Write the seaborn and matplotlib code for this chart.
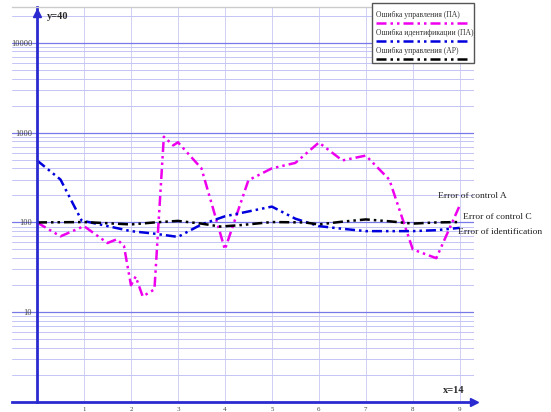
"""Log-scale error curves (Maple style plot)."""

import matplotlib.pyplot as plt
import numpy as np
import pandas as pd
import seaborn as sns
from matplotlib.lines import Line2D
from matplotlib.patches import Rectangle
from matplotlib.ticker import LogLocator, NullFormatter

# control error, PA (magenta)
ctrl_a_x = [0, 0.5, 1, 1.5, 1.7, 1.85, 2.0, 2.1, 2.25, 2.5, 2.7, 2.9, 3.0,
            3.5, 4.0, 4.5, 5.0, 5.5, 6.0, 6.5, 7.0, 7.5, 8.0, 8.5, 9.0]
ctrl_a_y = [100, 70, 91, 59, 65, 55, 20, 25, 15, 18, 900, 720, 780,
            400, 50, 295, 400, 460, 775, 490, 555, 300, 50, 40, 155]

# identification error, PA (blue)
ident_x = [0, 0.5, 0.95, 2, 2.5, 3, 3.5, 4, 5, 5.5, 6, 6.5, 7, 8, 8.5, 9]
ident_y = [490, 300, 105, 80, 75, 69, 95, 117, 150, 110, 91, 85, 80, 80, 82, 87]

# control error, AR (black)
ctrl_c_x = [0, 1, 2, 2.5, 3, 3.5, 3.9, 4.3, 5, 5.7, 6, 6.5, 7, 7.5, 8, 8.5, 9]
ctrl_c_y = [100, 101, 95, 100, 104, 97, 90, 93, 101, 100, 95, 102, 108, 103, 97, 100, 101]

series = ["Ошибка управления (ПА)", "Ошибка идентификации (ПА)", "Ошибка управления (АР)"]
colors = ["#ee00ee", "#0000dd", "#000000"]
dash_patterns = [(4, 1.6, 1, 1.6, 1, 1.6), (4, 1.6, 1, 1.6, 1, 1.6), (4, 1.6, 1, 1.6, 1, 1.6)]

y_ticks = [10, 100, 1000, 10000]
x_ticks = [1, 2, 3, 4, 5, 6, 7, 8, 9]

AXIS_BLUE = "#2a2ad0"

df = pd.concat([
    pd.DataFrame({"x": ctrl_a_x, "y": ctrl_a_y, "series": series[0]}),
    pd.DataFrame({"x": ident_x, "y": ident_y, "series": series[1]}),
    pd.DataFrame({"x": ctrl_c_x, "y": ctrl_c_y, "series": series[2]}),
])

sns.set_style("white")
plt.rcParams["font.family"] = ["Liberation Serif", "DejaVu Serif"]

fig = plt.figure(figsize=(5.51, 4.12), dpi=100)
ax = fig.add_axes([0.022, 0.024, 0.838, 0.959])

sns.lineplot(data=df, x="x", y="y", hue="series", style="series",
             palette=dict(zip(series, colors)), dashes=dict(zip(series, dash_patterns)),
             sort=False, errorbar=None, legend=False, linewidth=1.8, ax=ax)

ax.set_yscale("log")
ax.set_ylim(1, 25000)
ax.set_xlim(-0.53, 9.3)
ax.set_xlabel("")
ax.set_ylabel("")

# grid
ax.yaxis.set_minor_locator(LogLocator(base=10, subs=np.arange(2, 10)))
ax.yaxis.set_minor_formatter(NullFormatter())
ax.set_yticks(y_ticks)
ax.set_yticklabels([str(v) for v in y_ticks])
ax.set_xticks(x_ticks)
ax.set_xticklabels([str(v) for v in x_ticks])
ax.grid(axis="y", which="major", color="#7878e8", linewidth=0.9)
ax.grid(axis="y", which="minor", color="#c4c4f6", linewidth=0.7)
ax.grid(axis="x", which="major", color="#d0d0f6", linewidth=0.7)
ax.set_axisbelow(True)

ax.tick_params(axis="y", which="major", direction="inout", length=5, color=AXIS_BLUE,
               labelsize=6, labelcolor="#444444", pad=1)
ax.tick_params(axis="y", which="minor", length=0)
ax.tick_params(axis="x", direction="inout", length=5, color=AXIS_BLUE,
               labelsize=5, labelcolor="#444444", pad=1)

# spines: y axis through x=0, blue axes with arrows
ax.spines["left"].set_position(("data", 0))
ax.spines["left"].set_color(AXIS_BLUE)
ax.spines["left"].set_linewidth(2)
ax.spines["bottom"].set_color(AXIS_BLUE)
ax.spines["bottom"].set_linewidth(2)
ax.spines["right"].set_visible(False)
ax.spines["top"].set_color("#cccccc")
ax.spines["top"].set_linewidth(1)
ax.plot([0], [0.985], marker="^", color=AXIS_BLUE, markersize=6,
        transform=ax.get_xaxis_transform(), clip_on=False)
ax.plot([1.0], [1], marker=">", color=AXIS_BLUE, markersize=6,
        transform=ax.get_yaxis_transform(), clip_on=False)

ax.text(0.2, 0.975, "y=40", transform=ax.get_xaxis_transform(), fontsize=7.5,
        fontweight="bold", va="center", ha="left")
ax.text(0.98, 0.03, "x=14", transform=ax.transAxes, fontsize=7.5,
        fontweight="bold", va="center", ha="right")

# end-of-line labels
ax.text(8.53, 195, "Error of control A", fontsize=6.8, color="#222222", va="center")
ax.text(9.06, 114, "Error of control C", fontsize=6.8, color="#222222", va="center")
ax.text(8.96, 79, "Error of identification", fontsize=6.8, color="#222222", va="center")

# legend box (text above sample line)
fig.add_artist(Rectangle((0.675, 0.847), 0.185, 0.146, transform=fig.transFigure,
                         facecolor="white", edgecolor="#555555", linewidth=1))
for i, (name, col, dsh) in enumerate(zip(series, colors, dash_patterns)):
    ty = 1 - (15 + i * 18) / 412
    ly = 1 - (23 + i * 18) / 412
    fig.text(0.683, ty, name, fontsize=5.5, color="#333333", va="center", ha="left")
    fig.add_artist(Line2D([0.683, 0.855], [ly, ly], transform=fig.transFigure,
                          color=col, linewidth=1.8, dashes=dsh))

fig.savefig("out.png", dpi=100)
plt.close(fig)
